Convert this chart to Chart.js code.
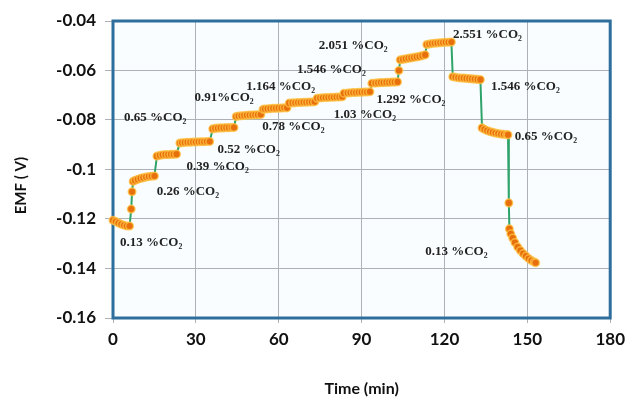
<!DOCTYPE html>
<html>
<head>
<meta charset="utf-8">
<script src="https://cdn.jsdelivr.net/npm/chart.js@4/dist/chart.umd.min.js"></script>
<style>
  html, body { margin: 0; padding: 0; background: #fff; }
  #wrap { width: 631px; height: 407px; }
</style>
</head>
<body>
<div id="wrap"><canvas id="emfChart"></canvas></div>
<script>
// time in minutes, EMF in volts
const time = [
  0, 1, 2, 3, 4, 5, 6,
  6.6, 6.9,
  7.3, 8, 9, 10, 11, 12, 13, 14, 15,
  15.9, 17, 18, 19, 20, 21, 22, 23,
  24.2, 25, 26, 27, 28, 29, 30, 31, 32, 33, 34, 35,
  36.1, 37, 38, 39, 40, 41, 42, 43, 43.8,
  44.6, 45.5, 46.5, 47.5, 48.5, 49.5, 50.5, 51.5, 52.5, 53.5,
  54.3, 55, 56, 57, 58, 59, 60, 61, 62, 63,
  63.8, 65, 66, 67, 68, 69, 70, 71, 72, 73,
  73.9, 75, 76, 77, 78, 79, 80, 81, 82, 83,
  83.6, 85, 86, 87, 88, 89, 90, 91, 92, 93,
  93.7, 95, 96, 97, 98, 99, 100, 101, 102, 103,
  103.5,
  104, 105, 106, 107, 108, 109, 110, 111, 112, 113,
  113.6, 114.5, 115.5, 116.5, 117.5, 118.5, 119.5, 120.5, 121.5, 122.5,
  123, 124, 125, 126, 127, 128, 129, 130, 131, 132, 133,
  133.6, 134.5, 135.5, 136.5, 137.5, 138.5, 139.5, 140.5, 141.5, 142.5, 143,
  143.3,
  143.5, 144, 144.7, 145.5, 146.5, 147.5, 148.5, 149.5, 150.5, 151.5, 152.5, 153
];
const emf = [
  -0.1205, -0.1210, -0.1216, -0.1221, -0.1225, -0.1228, -0.1228,
  -0.1160, -0.1090,
  -0.1048, -0.1044, -0.1040, -0.1036, -0.1033, -0.1030, -0.1028, -0.1027, -0.1026,
  -0.0946, -0.0943, -0.0941, -0.0940, -0.0940, -0.0939, -0.0939, -0.0938,
  -0.0893, -0.0892, -0.0891, -0.0890, -0.0890, -0.0889, -0.0889, -0.0888, -0.0888, -0.0888, -0.0887, -0.0887,
  -0.0836, -0.0834, -0.0833, -0.0832, -0.0832, -0.0831, -0.0831, -0.0830, -0.0830,
  -0.0786, -0.0784, -0.0783, -0.0782, -0.0781, -0.0780, -0.0780, -0.0779, -0.0779, -0.0778,
  -0.0757, -0.0756, -0.0755, -0.0754, -0.0753, -0.0753, -0.0752, -0.0752, -0.0751, -0.0751,
  -0.0732, -0.0731, -0.0730, -0.0729, -0.0729, -0.0728, -0.0728, -0.0727, -0.0727, -0.0726,
  -0.0712, -0.0711, -0.0710, -0.0709, -0.0709, -0.0708, -0.0708, -0.0707, -0.0707, -0.0706,
  -0.0692, -0.0691, -0.0690, -0.0689, -0.0689, -0.0688, -0.0688, -0.0687, -0.0687, -0.0686,
  -0.0652, -0.0651, -0.0650, -0.0649, -0.0649, -0.0648, -0.0648, -0.0647, -0.0647, -0.0646,
  -0.0600,
  -0.0557, -0.0555, -0.0553, -0.0551, -0.0549, -0.0547, -0.0545, -0.0543, -0.0540, -0.0537,
  -0.0495, -0.0493, -0.0491, -0.0490, -0.0489, -0.0488, -0.0487, -0.0486, -0.0486, -0.0485,
  -0.0625, -0.0627, -0.0629, -0.0630, -0.0631, -0.0632, -0.0633, -0.0634, -0.0635, -0.0636, -0.0637,
  -0.0832, -0.0838, -0.0843, -0.0847, -0.0850, -0.0853, -0.0855, -0.0857, -0.0858, -0.0859, -0.0860,
  -0.1135,
  -0.1240, -0.1260, -0.1277, -0.1295, -0.1313, -0.1327, -0.1340, -0.1350, -0.1360, -0.1368, -0.1374, -0.1377
];

// CO2 concentration notes, anchored at (time, EMF)
const noteText = [
  '0.13 %CO₂', '0.26 %CO₂', '0.39 %CO₂', '0.52 %CO₂', '0.65 %CO₂', '0.78 %CO₂',
  '0.91%CO₂', '1.03 %CO₂', '1.164 %CO₂', '1.292 %CO₂', '1.546 %CO₂', '2.051 %CO₂',
  '2.551 %CO₂', '1.546 %CO₂', '0.65 %CO₂', '0.13 %CO₂'
];
const noteTime = [2.5, 15.8, 26.6, 37.8, 4.0, 54.0, 29.5, 79.9, 48.2, 95.4, 66.6, 74.5, 123.1, 136.8, 145.4, 113.0];
const noteEmf = [-0.1297, -0.1091, -0.0990, -0.0921, -0.0792, -0.0828, -0.0711, -0.0780, -0.0667, -0.0719, -0.0598, -0.0501, -0.0457, -0.0667, -0.0869, -0.1333];

const xTicks = [0, 30, 60, 90, 120, 150, 180];
const yTicks = [-0.16, -0.14, -0.12, -0.1, -0.08, -0.06, -0.04];

const plotFrame = {
  id: 'plotFrame',
  beforeDraw(chart) {
    const { ctx, chartArea: a } = chart;
    ctx.save();
    ctx.fillStyle = '#f9fdff';
    ctx.fillRect(a.left, a.top, a.right - a.left, a.bottom - a.top);
    ctx.restore();
  },
  beforeDatasetsDraw(chart) {
    const { ctx, chartArea: a } = chart;
    ctx.save();
    ctx.strokeStyle = '#2e6e9c';
    ctx.lineWidth = 3;
    ctx.strokeRect(a.left, a.top, a.right - a.left, a.bottom - a.top);
    ctx.restore();
  },
  afterDatasetsDraw(chart) {
    const { ctx, scales } = chart;
    ctx.save();
    ctx.font = 'bold 13px "Liberation Serif"';
    ctx.fillStyle = '#222';
    ctx.textAlign = 'left';
    ctx.textBaseline = 'middle';
    noteText.forEach((t, i) => {
      ctx.fillText(t, scales.x.getPixelForValue(noteTime[i]), scales.y.getPixelForValue(noteEmf[i]));
    });
    // vertical axis title, sits a little below the middle of the axis
    ctx.translate(21, scales.y.getPixelForValue(-0.1065));
    ctx.rotate(-Math.PI / 2);
    ctx.font = 'bold 15px Lato';
    ctx.fillStyle = '#111';
    ctx.textAlign = 'center';
    ctx.fillText('EMF ( V)', 0, 0);
    ctx.restore();
  }
};

const tickFont = { family: 'Lato', size: 17, weight: 'bold' };

new Chart(document.getElementById('emfChart'), {
  type: 'scatter',
  data: {
    datasets: [{
      data: time.map((t, i) => ({ x: t, y: emf[i] })),
      showLine: true,
      borderColor: '#2ea36a',
      borderWidth: 2,
      pointRadius: 3.8,
      pointBackgroundColor: '#e8700c',
      pointBorderColor: 'rgba(255, 196, 70, 0.75)',
      pointBorderWidth: 1.5,
      clip: 6
    }]
  },
  options: {
    animation: false,
    responsive: true,
    maintainAspectRatio: false,
    layout: { padding: { left: 0, right: 18, top: 21, bottom: 0 } },
    plugins: { legend: { display: false }, tooltip: { enabled: false } },
    scales: {
      x: {
        type: 'linear',
        min: 0,
        max: 180,
        afterBuildTicks: s => { s.ticks = xTicks.map(v => ({ value: v })); },
        afterFit: s => { s.height = 89; },
        grid: { color: '#aeb2b8', lineWidth: 1, tickLength: 5 },
        border: { display: false },
        ticks: { color: '#111', font: tickFont, padding: 6 },
        title: { display: true, text: 'Time (min)', color: '#111', font: { family: 'Lato', size: 16, weight: 'bold' }, padding: { top: 0, bottom: 9 } }
      },
      y: {
        min: -0.16,
        max: -0.04,
        afterBuildTicks: s => { s.ticks = yTicks.map(v => ({ value: v })); },
        afterFit: s => { s.width = 113; },
        grid: { color: '#aeb2b8', lineWidth: 1, tickLength: 8 },
        border: { display: false },
        ticks: { color: '#111', font: tickFont, padding: 9, callback: v => String(+v.toFixed(2)) },
        title: { display: false }
      }
    }
  },
  plugins: [plotFrame]
});
</script>
</body>
</html>
